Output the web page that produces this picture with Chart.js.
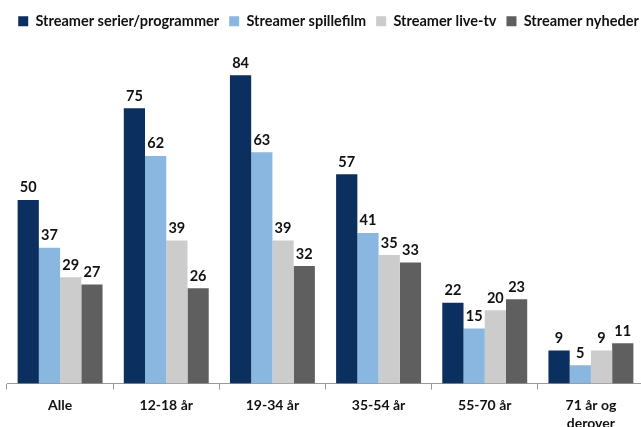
<!DOCTYPE html>
<html>
<head>
<meta charset="utf-8">
<script src="https://cdn.jsdelivr.net/npm/chart.js@4"></script>
<style>
  html, body { margin: 0; padding: 0; background: #fff; overflow: hidden; }
  #wrap { width: 641px; height: 427px; overflow: hidden; }
</style>
</head>
<body>
<div id="wrap"><canvas id="chart" width="657" height="440"></canvas></div>
<script>

const categories = ['Alle', '12-18 år', '19-34 år', '35-54 år', '55-70 år', ['71 år og', 'derover']]

const serier     = [50, 75, 84, 57, 22, 9]
const spillefilm = [37, 62, 63, 41, 15, 5]
const liveTv     = [29, 39, 39, 35, 20, 9]
const nyheder    = [27, 26, 32, 33, 23, 11]

const seriesLabels = ['Streamer serier/programmer', 'Streamer spillefilm', 'Streamer live-tv', 'Streamer nyheder']
const seriesColors = ['#0b2f5e', '#89b7e0', '#cccccc', '#5f5f5f']

const FONT = 'Lato, "Open Sans", sans-serif'

// draws the value over each bar
const valueLabels = {
      id: 'valueLabels',
      afterDatasetsDraw(chart){
            const ctx = chart.ctx
            ctx.save()
            ctx.font = 'bold 14.5px ' + FONT
            ctx.fillStyle = '#111'
            ctx.textAlign = 'center'
            ctx.textBaseline = 'bottom'
            chart.data.datasets.forEach((ds, i)=>{
                  chart.getDatasetMeta(i).data.forEach((bar, j)=>{
                        ctx.fillText(ds.data[j], bar.x, bar.y - 5)
                  })
            })
            ctx.restore()
      }
}

function getDataSet(){
      const values = [serier, spillefilm, liveTv, nyheder]
      return values.map((v, i)=>({
            label: seriesLabels[i],
            data: v,
            backgroundColor: seriesColors[i],
            borderWidth: 0,
            categoryPercentage: 0.8,
            barPercentage: 1.0,
      }))
}

// empty side axes that only reserve room
function spacer(position, width){
      return {
            type: 'linear',
            position: position,
            display: true,
            grid: { display: false },
            border: { display: false },
            ticks: { display: false },
            afterFit: (scale)=>{ scale.width = width }
      }
}

const setup = {
      type: 'bar',
      data: {
            labels: categories,
            datasets: getDataSet()
      },
      options: {
            responsive: false,
            animation: false,
            layout: { padding: { left: 0, right: 0, top: 4, bottom: 0 } },
            scales: {
                  y: Object.assign(spacer('left', 7), { min: 0, max: 94 }),
                  y2: spacer('right', 13),
                  x: {
                        grid: {
                              offset: true,
                              drawOnChartArea: false,
                              drawTicks: true,
                              tickLength: 6,
                              color: '#999'
                        },
                        border: { color: '#999', width: 1 },
                        ticks: {
                              color: '#111',
                              font: { family: FONT, size: 14, weight: 'bold', lineHeight: 1.3 },
                              padding: 7,
                              maxRotation: 0
                        }
                  }
            },
            plugins: {
                  legend: {
                        display: true,
                        position: 'top',
                        labels: {
                              boxWidth: 10,
                              boxHeight: 10,
                              padding: 10,
                              color: '#111',
                              font: { family: FONT, size: 14.5, weight: 'bold' }
                        }
                  },
                  tooltip: { enabled: false }
            }
      },
      plugins: [valueLabels]
}

new Chart(document.getElementById('chart'), setup)

</script>
</body>
</html>
